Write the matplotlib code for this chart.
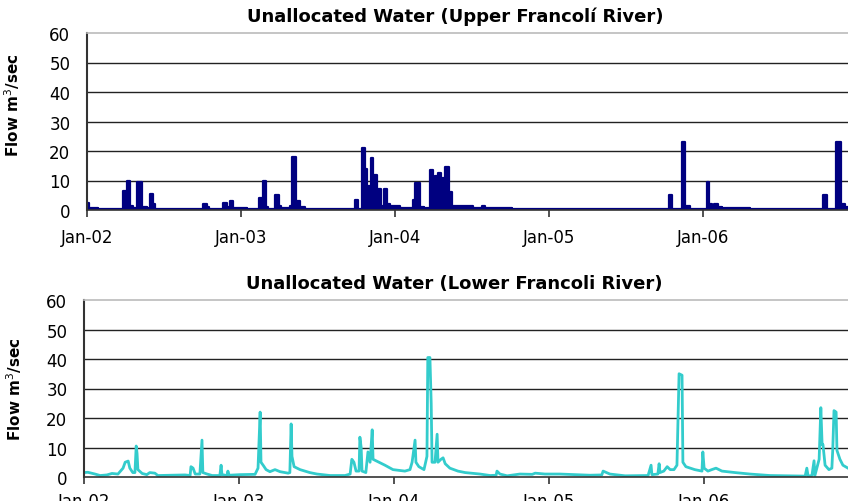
import numpy as np
import pandas as pd
import matplotlib
matplotlib.use('Agg')
import matplotlib.pyplot as plt
import matplotlib.dates as mdates

# Upper Francoli: step series (value holds until next date)
upper_dates = [
    '2002-01-01', '2002-01-06', '2002-01-27', '2002-03-27', '2002-04-06',
    '2002-04-13', '2002-04-20', '2002-04-30', '2002-05-11', '2002-05-23',
    '2002-05-30', '2002-06-07', '2002-06-11', '2002-08-24', '2002-10-03',
    '2002-10-13', '2002-10-17', '2002-11-20', '2002-11-29', '2002-12-06',
    '2002-12-13', '2003-01-16', '2003-02-13', '2003-02-22', '2003-03-02',
    '2003-03-06', '2003-03-23', '2003-04-01', '2003-04-06', '2003-04-27',
    '2003-05-02', '2003-05-12', '2003-05-14', '2003-05-21', '2003-06-02',
    '2003-08-24', '2003-09-29', '2003-10-06', '2003-10-15', '2003-10-22',
    '2003-10-27', '2003-11-03', '2003-11-06', '2003-11-10', '2003-11-20',
    '2003-11-29', '2003-12-06', '2003-12-14', '2003-12-21', '2004-01-13',
    '2004-02-13', '2004-02-18', '2004-03-01', '2004-03-10', '2004-03-25',
    '2004-04-01', '2004-04-05', '2004-04-13', '2004-04-20', '2004-04-29',
    '2004-05-09', '2004-05-16', '2004-07-05', '2004-07-26', '2004-08-02',
    '2004-10-05', '2005-10-12', '2005-10-20', '2005-11-12', '2005-11-19',
    '2005-12-01', '2006-01-11', '2006-01-15', '2006-01-22', '2006-01-27',
    '2006-02-06', '2006-02-15', '2006-04-23', '2006-10-13', '2006-10-22',
    '2006-11-13', '2006-11-24', '2006-12-04', '2006-12-15',
]
upper_flow = [
    2.5, 0.7, 0.3, 6.5, 10,
    1.5, 0.8, 9.5, 1.0, 0.6,
    5.5, 2.0, 0.5, 0.3, 2.0,
    1.0, 0.3, 2.5, 1.0, 3.0,
    0.7, 0.3, 4.0, 10, 1.0,
    0.5, 5.0, 1.5, 0.7, 1.5,
    18, 1.0, 3.0, 1.0, 0.5,
    0.3, 3.5, 0.5, 21, 14,
    8, 1.5, 17.5, 12, 7,
    1.5, 7, 2, 1.5, 0.8,
    3.5, 9, 1.0, 0.6, 13.5,
    1.5, 11.5, 12.5, 11, 14.5,
    6, 1.2, 0.7, 1.5, 0.8,
    0.3, 5.0, 0.5, 23, 1.2,
    0.5, 9.5, 2, 0.6, 2,
    1.0, 0.8, 0.3, 5, 0.5,
    23, 2, 1, 1,
]

# Lower Francoli: line series
lower_dates = [
    '2002-01-01', '2002-01-10', '2002-01-27', '2002-02-08', '2002-02-24',
    '2002-03-08', '2002-03-22', '2002-04-03', '2002-04-08', '2002-04-15',
    '2002-04-19', '2002-04-26', '2002-05-01', '2002-05-04', '2002-05-06',
    '2002-05-08', '2002-05-18', '2002-05-29', '2002-06-05', '2002-06-17',
    '2002-06-24', '2002-08-27', '2002-09-08', '2002-09-10', '2002-09-15',
    '2002-09-20', '2002-10-01', '2002-10-06', '2002-10-08', '2002-10-18',
    '2002-10-30', '2002-11-17', '2002-11-20', '2002-11-22', '2002-12-04',
    '2002-12-06', '2002-12-09', '2003-01-04', '2003-02-08', '2003-02-15',
    '2003-02-20', '2003-02-22', '2003-02-27', '2003-03-06', '2003-03-15',
    '2003-03-27', '2003-04-08', '2003-04-27', '2003-05-01', '2003-05-04',
    '2003-05-06', '2003-05-11', '2003-05-25', '2003-06-17', '2003-07-04',
    '2003-08-04', '2003-09-08', '2003-09-20', '2003-09-24', '2003-09-29',
    '2003-10-04', '2003-10-11', '2003-10-13', '2003-10-16', '2003-10-18',
    '2003-10-27', '2003-11-01', '2003-11-06', '2003-11-11', '2003-11-13',
    '2003-11-20', '2003-12-11', '2003-12-30', '2004-01-27', '2004-02-08',
    '2004-02-13', '2004-02-20', '2004-02-22', '2004-02-29', '2004-03-12',
    '2004-03-19', '2004-03-21', '2004-03-26', '2004-03-29', '2004-03-31',
    '2004-04-07', '2004-04-12', '2004-04-14', '2004-04-21', '2004-04-26',
    '2004-05-01', '2004-05-12', '2004-05-31', '2004-06-17', '2004-07-22',
    '2004-08-15', '2004-08-29', '2004-08-31', '2004-09-07', '2004-09-24',
    '2004-10-24', '2004-11-22', '2004-11-29', '2004-12-22', '2005-01-26',
    '2005-03-03', '2005-04-07', '2005-05-05', '2005-05-08', '2005-05-24',
    '2005-06-29', '2005-08-22', '2005-08-29', '2005-08-31', '2005-09-14',
    '2005-09-17', '2005-09-19', '2005-09-28', '2005-10-06', '2005-10-13',
    '2005-10-22', '2005-10-29', '2005-11-03', '2005-11-10', '2005-11-12',
    '2005-11-19', '2005-12-10', '2005-12-27', '2005-12-29', '2006-01-01',
    '2006-01-10', '2006-01-19', '2006-01-29', '2006-02-12', '2006-03-15',
    '2006-04-19', '2006-06-05', '2006-08-27', '2006-08-31', '2006-09-03',
    '2006-09-12', '2006-09-17', '2006-09-19', '2006-09-29', '2006-10-03',
    '2006-10-06', '2006-10-08', '2006-10-13', '2006-10-22', '2006-10-29',
    '2006-10-31', '2006-11-03', '2006-11-08', '2006-11-10', '2006-11-17',
    '2006-11-24', '2006-12-06',
]
lower_flow = [
    1.5, 1.6, 1.0, 0.5, 0.7,
    1.2, 1.0, 3.0, 5.0, 5.4,
    3.0, 1.5, 1.5, 10.5, 8,
    2.5, 1.2, 0.8, 1.5, 1.3,
    0.5, 0.7, 0.5, 3.5, 3.0,
    1.0, 1.0, 12.5, 1.5, 1.0,
    0.5, 0.5, 4.0, 0.8, 0.5,
    2.0, 0.6, 0.8, 0.9, 3.0,
    22, 5, 4, 2.5, 1.8,
    2.5, 1.8, 1.3, 1.5, 18,
    7, 3.5, 2.5, 1.5, 1.0,
    0.5, 0.5, 1.0, 6, 5,
    2, 2, 13.5, 10, 2,
    1.5, 8.5, 5, 16, 6,
    5.5, 4.0, 2.5, 2.0, 2.5,
    5, 12.5, 5, 3.5, 2.5,
    7, 40.5, 40.5, 25, 5,
    5, 14.5, 5, 6, 6.5,
    4.5, 3.0, 2.0, 1.5, 1.0,
    0.5, 0.6, 2.0, 1.0, 0.4,
    1.0, 0.9, 1.3, 1.0, 1.0,
    0.8, 0.6, 0.7, 2.0, 1.0,
    0.4, 0.5, 4, 0.8, 1.0,
    4.5, 1.5, 2.0, 3.5, 2.5,
    2.5, 4, 35, 34.5, 5,
    3.5, 2.5, 2.0, 8.5, 3.0,
    2.0, 2.5, 3.0, 2.0, 1.5,
    1.0, 0.5, 0.3, 3.0, 0.3,
    0.5, 5.5, 0.5, 6, 23.5,
    11, 11, 4, 2.5, 3,
    9, 22.5, 22, 9, 6,
    4, 3,
]

years = ['2002', '2003', '2004', '2005', '2006']

upper_x = pd.to_datetime(upper_dates)
lower_x = pd.to_datetime(lower_dates)
year_ticks = pd.to_datetime([y + '-01-01' for y in years])

fig = plt.figure(figsize=(8.48, 5.02), dpi=100)
ax1 = fig.add_axes([87 / 848, 1 - 211 / 502, (848 - 87) / 848, 177 / 502])
ax2 = fig.add_axes([84 / 848, 1 - 478 / 502, (848 - 84) / 848, 177 / 502])

navy = '#000080'
cyan = '#33CCCC'

ax1.fill_between(upper_x, upper_flow, step='post', color=navy, lw=0)
ax1.step(upper_x, upper_flow, where='post', color=navy, lw=1.6)
ax2.plot(lower_x, lower_flow, color=cyan, lw=2)

ax1.set_xlim(pd.Timestamp('2002-01-01'), pd.Timestamp('2006-12-11'))
ax2.set_xlim(pd.Timestamp('2002-01-01'), pd.Timestamp('2006-12-06'))

titles = ['Unallocated Water (Upper Francolí River)',
          'Unallocated Water (Lower Francoli River)']
label_x = [-0.085, -0.078]
label_y = [0.6, 0.5]
xpads = [8, 6]

for i, ax in enumerate([ax1, ax2]):
    ax.set_ylim(0, 60)
    ax.set_yticks(range(0, 61, 10))
    for v in range(10, 60, 10):
        ax.axhline(v, color='#222222', lw=1, zorder=0)
    ax.spines['top'].set_color('#bbbbbb')
    ax.spines['top'].set_linewidth(1.2)
    ax.spines['right'].set_visible(False)
    ax.spines['left'].set_color('#333333')
    ax.spines['left'].set_linewidth(1.5)
    ax.spines['bottom'].set_color('#333333')
    ax.spines['bottom'].set_linewidth(1.2)
    ax.set_xticks(year_ticks)
    ax.xaxis.set_major_formatter(mdates.DateFormatter('%b-%y'))
    ax.tick_params(axis='y', length=0, pad=12, labelsize=12)
    ax.tick_params(axis='x', length=5, width=1.2, color='#333333',
                   pad=xpads[i], labelsize=12)
    ax.set_ylabel('Flow m$^3$/sec', fontsize=11, fontweight='bold')
    ax.yaxis.set_label_coords(label_x[i], label_y[i])
    ax.text(0.484, 1 + 17 / 177, titles[i], transform=ax.transAxes,
            ha='center', va='center', fontsize=13, fontweight='bold')

fig.savefig('out.png', dpi=100)
